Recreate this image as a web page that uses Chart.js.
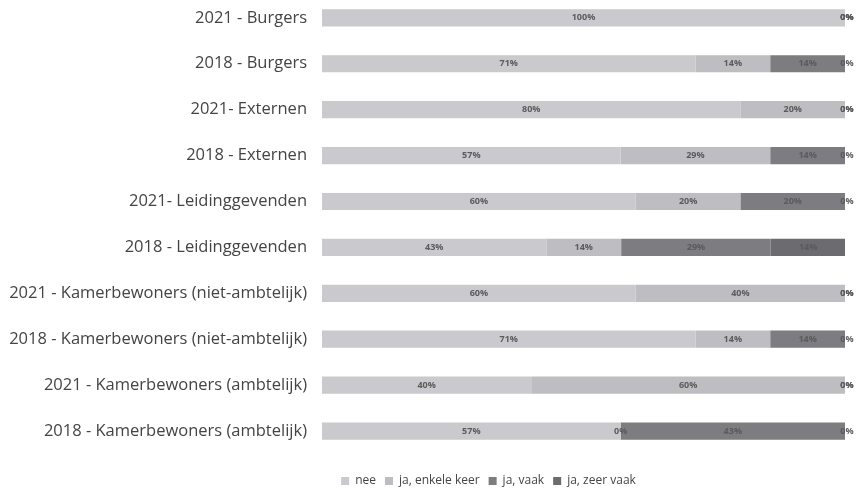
<!DOCTYPE html>
<html>
<head>
<meta charset="utf-8">
<script src="https://cdn.jsdelivr.net/npm/chart.js@4/dist/chart.umd.min.js"></script>
<style>
  html, body { margin: 0; padding: 0; background: #fff; overflow: hidden; }
  #wrap { position: absolute; left: 0; top: -30px; width: 861px; height: 521px; }
</style>
</head>
<body>
<div id="wrap"><canvas id="c" width="861" height="521"></canvas></div>
<script>
"use strict";

const categories = [
  "2021 - Burgers",
  "2018 - Burgers",
  "2021- Externen",
  "2018 - Externen",
  "2021- Leidinggevenden",
  "2018 - Leidinggevenden",
  "2021 - Kamerbewoners (niet-ambtelijk)",
  "2018 - Kamerbewoners (niet-ambtelijk)",
  "2021 - Kamerbewoners (ambtelijk)",
  "2018 - Kamerbewoners (ambtelijk)"
];
const seriesNames = ["nee", "ja, enkele keer", "ja, vaak", "ja, zeer vaak"];
// percentages per row (the 2018 groups are small, so sevenths)
const nee        = [100, 71.4, 80, 57.1, 60, 42.9, 60, 71.4, 40, 57.1];
const enkeleKeer = [  0, 14.3, 20, 28.6, 20, 14.3, 40, 14.3, 60,  0];
const vaak       = [  0, 14.3,  0, 14.3, 20, 28.6,  0, 14.3,  0, 42.9];
const zeerVaak   = [  0,  0,    0,  0,    0, 14.3,  0,  0,    0,  0];
const colors = ["#c9c9ce", "#bdbdc2", "#7c7c81", "#6b6b70"];

// draws "NN%" in the middle of every segment
const segmentLabels = {
  id: "segmentLabels",
  afterDatasetsDraw(chart) {
    const ctx = chart.ctx;
    ctx.save();
    ctx.font = "bold 9px 'Open Sans'";
    ctx.fillStyle = "#5b5b5b";
    ctx.textAlign = "center";
    ctx.textBaseline = "middle";
    chart.data.datasets.forEach((ds, i) => {
      chart.getDatasetMeta(i).data.forEach((bar, j) => {
        let x = (bar.x + bar.base) / 2;
        if (x > chart.chartArea.right - 6) x = chart.chartArea.right + 2;
        ctx.fillText(Math.round(ds.data[j]) + "%", x, bar.y);
      });
    });
    ctx.restore();
  }
};

// nudge the legend, like in the original
const legendShift = {
  id: "legendShift",
  afterLayout(chart) {
    chart.legend.left += 61;
    chart.legend.right += 61;
    chart.legend.top += 12;
    chart.legend.bottom += 12;
  }
};

new Chart(document.getElementById("c").getContext("2d"), {
  type: "bar",
  data: {
    labels: categories,
    datasets: [nee, enkeleKeer, vaak, zeerVaak].map((d, i) => ({
      label: seriesNames[i],
      data: d,
      backgroundColor: colors[i],
      borderWidth: 0,
      barPercentage: 0.75,
      categoryPercentage: 0.5
    }))
  },
  options: {
    indexAxis: "y",
    responsive: false,
    animation: false,
    layout: { padding: { left: 10, right: 16, top: 0, bottom: 6 } },
    scales: {
      x: { stacked: true, min: 0, max: 100, display: false },
      y: {
        stacked: true,
        grid: { display: false, drawTicks: false },
        border: { display: false },
        ticks: { color: "#444", padding: 15, font: { family: "'Open Sans'", size: 16.5 } },
        afterFit(scale) { scale.width = 312; }
      }
    },
    plugins: {
      legend: {
        position: "bottom",
        labels: {
          boxWidth: 8,
          boxHeight: 8,
          padding: 9,
          color: "#444",
          font: { family: "'Open Sans'", size: 12 }
        }
      },
      tooltip: { enabled: false }
    }
  },
  plugins: [segmentLabels, legendShift]
});
</script>
</body>
</html>
